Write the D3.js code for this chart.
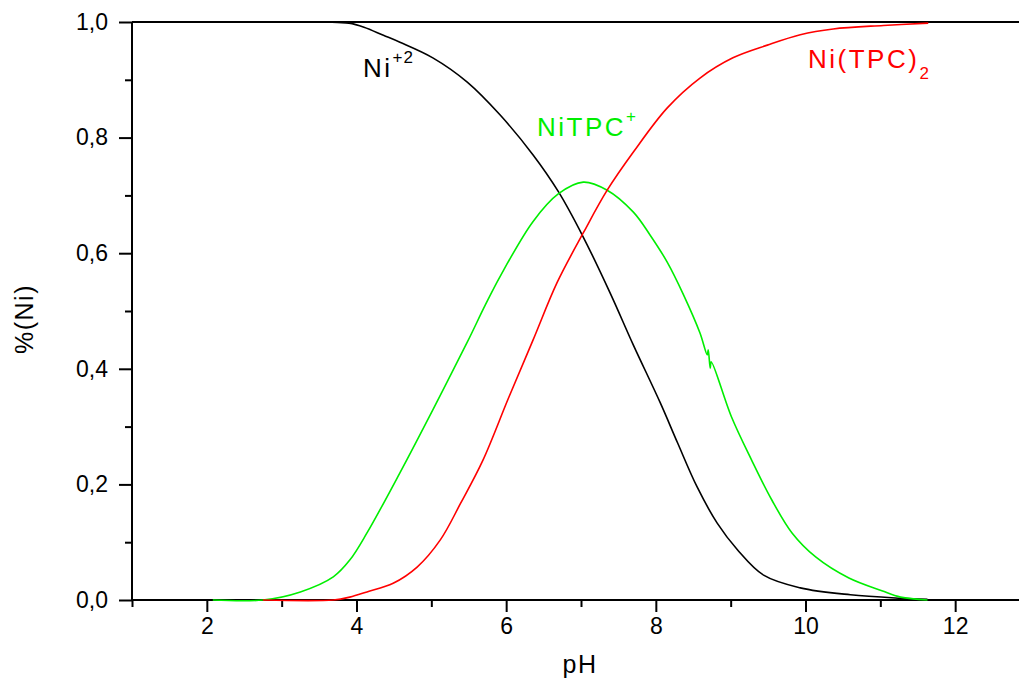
<!DOCTYPE html>
<html>
<head>
<meta charset="utf-8">
<script src="https://cdn.jsdelivr.net/npm/d3@7"></script>
<style>
  html, body { margin: 0; padding: 0; background: #fff; }
  svg { display: block; font-family: "Liberation Sans", Arial, sans-serif; }
</style>
</head>
<body>
<svg id="chart" width="1019" height="686"></svg>
<script>
// Nickel speciation vs pH: fraction of each species
const phNi = [2.04, 3.0, 3.6, 3.9, 4.1, 4.36, 4.58, 5.02, 5.48, 5.92, 6.36, 6.70, 7.03, 7.39, 7.70, 8.06, 8.29, 8.55, 8.82, 9.09, 9.44, 9.93, 10.6, 11.27, 11.63];
const fracNi = [1.0, 1.0, 1.0, 0.998, 0.991, 0.977, 0.965, 0.938, 0.896, 0.839, 0.770, 0.706, 0.628, 0.531, 0.441, 0.341, 0.272, 0.196, 0.133, 0.087, 0.043, 0.021, 0.009, 0.003, 0.001];

const phNiTPC = [2.08, 2.75, 3.25, 3.69, 3.91, 4.14, 4.58, 5.02, 5.48, 5.72, 5.92, 6.36, 6.70, 7.03, 7.35, 7.70, 7.92, 8.15, 8.37, 8.59, 8.687, 8.70, 8.727, 8.74, 9.01, 9.28, 9.55, 9.82, 10.14, 10.58, 11.02, 11.27, 11.63];
const fracNiTPC = [0.0, 0.0, 0.014, 0.040, 0.069, 0.116, 0.220, 0.329, 0.446, 0.510, 0.560, 0.655, 0.703, 0.723, 0.709, 0.671, 0.632, 0.585, 0.528, 0.462, 0.424, 0.433, 0.401, 0.412, 0.317, 0.242, 0.173, 0.116, 0.074, 0.038, 0.016, 0.005, 0.0];

const phNiTPC2 = [2.75, 3.69, 3.91, 4.14, 4.49, 4.81, 5.12, 5.39, 5.69, 6.03, 6.36, 6.68, 7.03, 7.35, 7.70, 8.15, 8.59, 9.03, 9.49, 9.93, 10.37, 11.04, 11.64];
const fracNiTPC2 = [0.0, 0.0, 0.005, 0.014, 0.029, 0.057, 0.104, 0.167, 0.242, 0.349, 0.450, 0.549, 0.635, 0.709, 0.775, 0.851, 0.903, 0.938, 0.960, 0.978, 0.988, 0.994, 0.998];

const xMajor = [2, 4, 6, 8, 10, 12];
const yMajor = [0, 0.2, 0.4, 0.6, 0.8, 1.0];

const svg = d3.select("#chart");
const mLeft = 132, mTop = 22, mBottom = 600, mRight = 1030;

const x = d3.scaleLinear().domain([1, 13]).range([mLeft, mRight]);
const y = d3.scaleLinear().domain([0, 1]).range([mBottom, mTop]);

const fmt = v => d3.format(".1f")(v).replace(".", ",");

// y axis
const yAxis = d3.axisLeft(y).tickValues(yMajor).tickFormat(fmt).tickSize(13).tickPadding(11);
const gy = svg.append("g").attr("transform", `translate(${mLeft},0)`).call(yAxis);
const yMinor = d3.axisLeft(y).tickValues([0.1, 0.3, 0.5, 0.7, 0.9]).tickFormat("").tickSize(7);
const gym = svg.append("g").attr("transform", `translate(${mLeft},0)`).call(yMinor);

// x axis
const xAxis = d3.axisBottom(x).tickValues(xMajor).tickFormat(d3.format("d")).tickSize(12).tickPadding(6);
const gx = svg.append("g").attr("transform", `translate(0,${mBottom})`).call(xAxis);
const xMinor = d3.axisBottom(x).tickValues([1, 3, 5, 7, 9, 11, 13]).tickFormat("").tickSize(7);
const gxm = svg.append("g").attr("transform", `translate(0,${mBottom})`).call(xMinor);

[gy, gym, gx, gxm].forEach(g => {
  g.selectAll("path.domain").attr("stroke", "#000").attr("stroke-width", 2);
  g.selectAll(".tick line").attr("stroke", "#000").attr("stroke-width", 2);
  g.selectAll(".tick text").attr("fill", "#000").style("font-size", "23px")
    .style("font-family", "'Liberation Sans', Arial, sans-serif");
});
gy.selectAll("path.domain").attr("d", `M0,${mBottom}V${mTop}`);
gym.selectAll("path.domain").remove();
gx.selectAll("path.domain").attr("d", `M${mLeft},0H${mRight}`);
gxm.selectAll("path.domain").remove();

// top frame line
svg.append("line")
  .attr("x1", mLeft).attr("x2", mRight).attr("y1", mTop).attr("y2", mTop)
  .attr("stroke", "#000").attr("stroke-width", 2);

// species curves, drawn over the frame
const series = [
  { ph: phNi, v: fracNi, color: "#000000" },
  { ph: phNiTPC, v: fracNiTPC, color: "#00ee00" },
  { ph: phNiTPC2, v: fracNiTPC2, color: "#ff0000" }
];
const line = d3.line().x(d => x(d[0])).y(d => y(d[1])).curve(d3.curveCatmullRom.alpha(0.5));
series.forEach(s => {
  svg.append("path")
    .datum(s.ph.map((p, i) => [p, s.v[i]]))
    .attr("d", line)
    .attr("fill", "none")
    .attr("stroke", s.color)
    .attr("stroke-width", 1.6);
});

// axis titles
svg.append("text")
  .attr("x", 580).attr("y", 673).attr("text-anchor", "middle")
  .style("font-size", "25px").style("letter-spacing", "1.5px").text("pH");
svg.append("text")
  .attr("transform", "translate(33,319) rotate(-90)").attr("text-anchor", "middle")
  .style("font-size", "25px").style("letter-spacing", "1.5px").text("%(Ni)");

// species labels
function label(px, py, main, sup, sub, color) {
  const t = svg.append("text").attr("x", px).attr("y", py).attr("fill", color)
    .style("font-size", "26px").style("letter-spacing", "2.5px");
  t.append("tspan").text(main);
  if (sup) t.append("tspan").attr("dy", -14).style("font-size", "17px").style("letter-spacing", "1px").text(sup);
  if (sub) t.append("tspan").attr("dy", 11).style("font-size", "17px").text(sub);
}
label(363, 77, "Ni", "+2", null, "#000000");
label(537, 136, "NiTPC", "+", null, "#00ee00");
label(808, 68, "Ni(TPC)", null, "2", "#ff0000");
</script>
</body>
</html>
